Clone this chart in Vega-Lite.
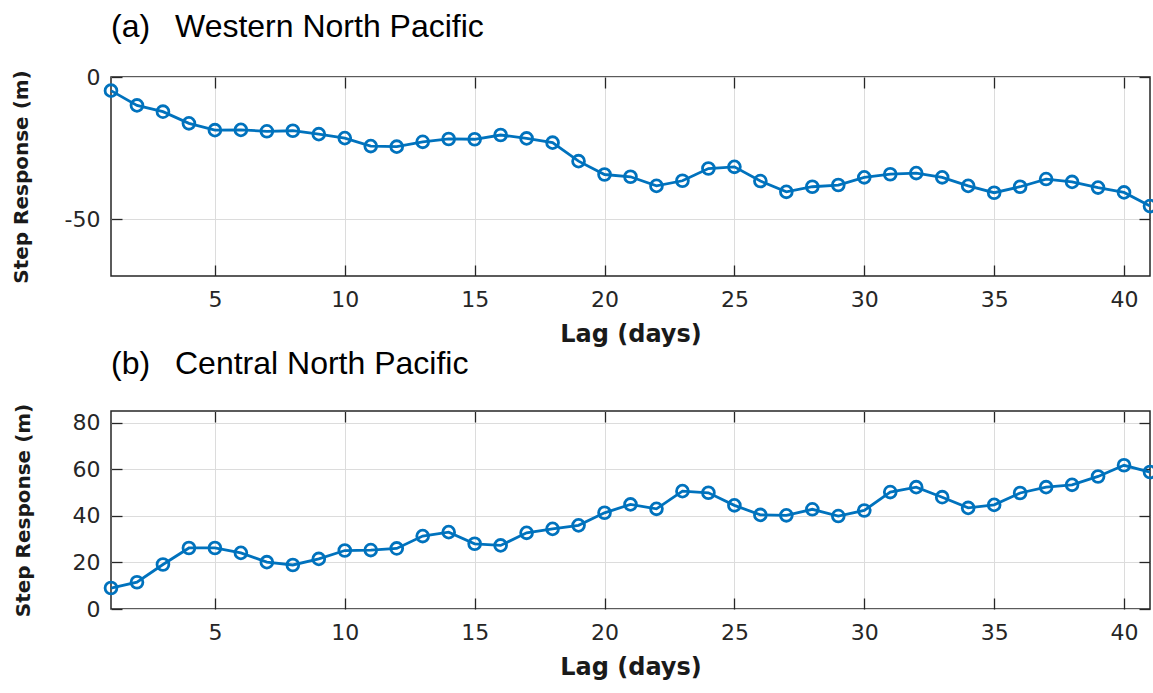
{
  "$schema": "https://vega.github.io/schema/vega-lite/v6.json",
  "background": "white",
  "padding": {"left": 10, "top": 10, "right": 2, "bottom": 2},
  "datasets": {
    "wnp": [
      {"lag": 1, "v": -4.8}, {"lag": 2, "v": -10}, {"lag": 3, "v": -12.2}, {"lag": 4, "v": -16.3}, {"lag": 5, "v": -18.7},
      {"lag": 6, "v": -18.6}, {"lag": 7, "v": -19.1}, {"lag": 8, "v": -18.9}, {"lag": 9, "v": -20.1}, {"lag": 10, "v": -21.5},
      {"lag": 11, "v": -24.3}, {"lag": 12, "v": -24.5}, {"lag": 13, "v": -22.8}, {"lag": 14, "v": -21.8}, {"lag": 15, "v": -21.9},
      {"lag": 16, "v": -20.4}, {"lag": 17, "v": -21.6}, {"lag": 18, "v": -23.1}, {"lag": 19, "v": -29.6}, {"lag": 20, "v": -34.3},
      {"lag": 21, "v": -35.1}, {"lag": 22, "v": -38.3}, {"lag": 23, "v": -36.5}, {"lag": 24, "v": -32.2}, {"lag": 25, "v": -31.6},
      {"lag": 26, "v": -36.6}, {"lag": 27, "v": -40.4}, {"lag": 28, "v": -38.6}, {"lag": 29, "v": -38.0}, {"lag": 30, "v": -35.3},
      {"lag": 31, "v": -34.2}, {"lag": 32, "v": -33.8}, {"lag": 33, "v": -35.3}, {"lag": 34, "v": -38.3}, {"lag": 35, "v": -40.7},
      {"lag": 36, "v": -38.6}, {"lag": 37, "v": -35.9}, {"lag": 38, "v": -36.9}, {"lag": 39, "v": -38.9}, {"lag": 40, "v": -40.6},
      {"lag": 41, "v": -45.4}
    ],
    "cnp": [
      {"lag": 1, "v": 9.0}, {"lag": 2, "v": 11.5}, {"lag": 3, "v": 19.1}, {"lag": 4, "v": 26.2}, {"lag": 5, "v": 26.2},
      {"lag": 6, "v": 24.1}, {"lag": 7, "v": 20.1}, {"lag": 8, "v": 18.9}, {"lag": 9, "v": 21.5}, {"lag": 10, "v": 25.1},
      {"lag": 11, "v": 25.3}, {"lag": 12, "v": 26.0}, {"lag": 13, "v": 31.3}, {"lag": 14, "v": 33.0}, {"lag": 15, "v": 28.0},
      {"lag": 16, "v": 27.3}, {"lag": 17, "v": 32.7}, {"lag": 18, "v": 34.4}, {"lag": 19, "v": 35.9}, {"lag": 20, "v": 41.3},
      {"lag": 21, "v": 44.9}, {"lag": 22, "v": 43.0}, {"lag": 23, "v": 50.6}, {"lag": 24, "v": 49.9}, {"lag": 25, "v": 44.5},
      {"lag": 26, "v": 40.4}, {"lag": 27, "v": 40.2}, {"lag": 28, "v": 42.8}, {"lag": 29, "v": 39.9}, {"lag": 30, "v": 42.3},
      {"lag": 31, "v": 50.2}, {"lag": 32, "v": 52.3}, {"lag": 33, "v": 48.0}, {"lag": 34, "v": 43.4}, {"lag": 35, "v": 44.7},
      {"lag": 36, "v": 49.8}, {"lag": 37, "v": 52.3}, {"lag": 38, "v": 53.3}, {"lag": 39, "v": 56.9}, {"lag": 40, "v": 61.7},
      {"lag": 41, "v": 58.8}
    ]
  },
  "config": {
    "font": "DejaVu Sans",
    "view": {"stroke": "#262626", "strokeWidth": 1.5},
    "axis": {
      "labelFont": "DejaVu Sans", "labelFontSize": 22, "labelColor": "#262626",
      "tickColor": "#262626", "tickSize": -11, "tickWidth": 1.3, "domain": false,
      "gridColor": "#dcdcdc", "gridWidth": 1,
      "titleFont": "DejaVu Sans", "titleFontWeight": "bold", "titleColor": "#1a1a1a"
    },
    "title": {"font": "Liberation Sans", "fontSize": 32, "fontWeight": "normal", "anchor": "start", "frame": "group", "color": "#000000", "offset": 22},
    "concat": {"spacing": 0}
  },
  "vconcat": [
    {
      "title": {"text": "(a)\u2002 Western North Pacific"},
      "width": 1039, "height": 199,
      "data": {"name": "wnp"},
      "layer": [
        {
          "mark": {"type": "line", "color": "#0072BD", "strokeWidth": 2.8},
          "encoding": {
            "x": {"field": "lag", "type": "quantitative", "scale": {"domain": [1, 41], "nice": false, "zero": false},
                  "axis": {"values": [5, 10, 15, 20, 25, 30, 35, 40], "title": "Lag (days)", "titleFontSize": 24, "labelPadding": 24, "titlePadding": 12, "grid": true}},
            "y": {"field": "v", "type": "quantitative", "scale": {"domain": [-70, 0], "nice": false, "zero": false},
                  "axis": {"values": [-50, 0], "title": "Step Response (m)", "titleFontSize": 20, "labelPadding": 22, "titlePadding": 33, "grid": true, "labelExpr": "replace(datum.label, '\u2212', '-')"}}
          }
        },
        {
          "mark": {"type": "point", "shape": "circle", "filled": false, "color": "#0072BD", "strokeWidth": 2.8, "size": 140, "opacity": 1},
          "encoding": {
            "x": {"field": "lag", "type": "quantitative", "scale": {"domain": [1, 41], "nice": false, "zero": false},
                  "axis": {"orient": "top", "values": [5, 10, 15, 20, 25, 30, 35, 40], "labels": false, "title": null, "grid": false}},
            "y": {"field": "v", "type": "quantitative", "scale": {"domain": [-70, 0], "nice": false, "zero": false},
                  "axis": {"orient": "right", "values": [-50, 0], "labels": false, "title": null, "grid": false}}
          }
        }
      ],
      "resolve": {"axis": {"x": "independent", "y": "independent"}}
    },
    {
      "title": {"text": "(b)\u2002 Central North Pacific"},
      "width": 1039, "height": 198,
      "data": {"name": "cnp"},
      "layer": [
        {
          "mark": {"type": "line", "color": "#0072BD", "strokeWidth": 2.8},
          "encoding": {
            "x": {"field": "lag", "type": "quantitative", "scale": {"domain": [1, 41], "nice": false, "zero": false},
                  "axis": {"values": [5, 10, 15, 20, 25, 30, 35, 40], "title": "Lag (days)", "titleFontSize": 24, "labelPadding": 24, "titlePadding": 12, "grid": true}},
            "y": {"field": "v", "type": "quantitative", "scale": {"domain": [0, 85], "nice": false, "zero": false},
                  "axis": {"values": [0, 20, 40, 60, 80], "title": "Step Response (m)", "titleFontSize": 20, "labelPadding": 22, "titlePadding": 39, "grid": true}}
          }
        },
        {
          "mark": {"type": "point", "shape": "circle", "filled": false, "color": "#0072BD", "strokeWidth": 2.8, "size": 140, "opacity": 1},
          "encoding": {
            "x": {"field": "lag", "type": "quantitative", "scale": {"domain": [1, 41], "nice": false, "zero": false},
                  "axis": {"orient": "top", "values": [5, 10, 15, 20, 25, 30, 35, 40], "labels": false, "title": null, "grid": false}},
            "y": {"field": "v", "type": "quantitative", "scale": {"domain": [0, 85], "nice": false, "zero": false},
                  "axis": {"orient": "right", "values": [0, 20, 40, 60, 80], "labels": false, "title": null, "grid": false}}
          }
        }
      ],
      "resolve": {"axis": {"x": "independent", "y": "independent"}}
    }
  ]
}
